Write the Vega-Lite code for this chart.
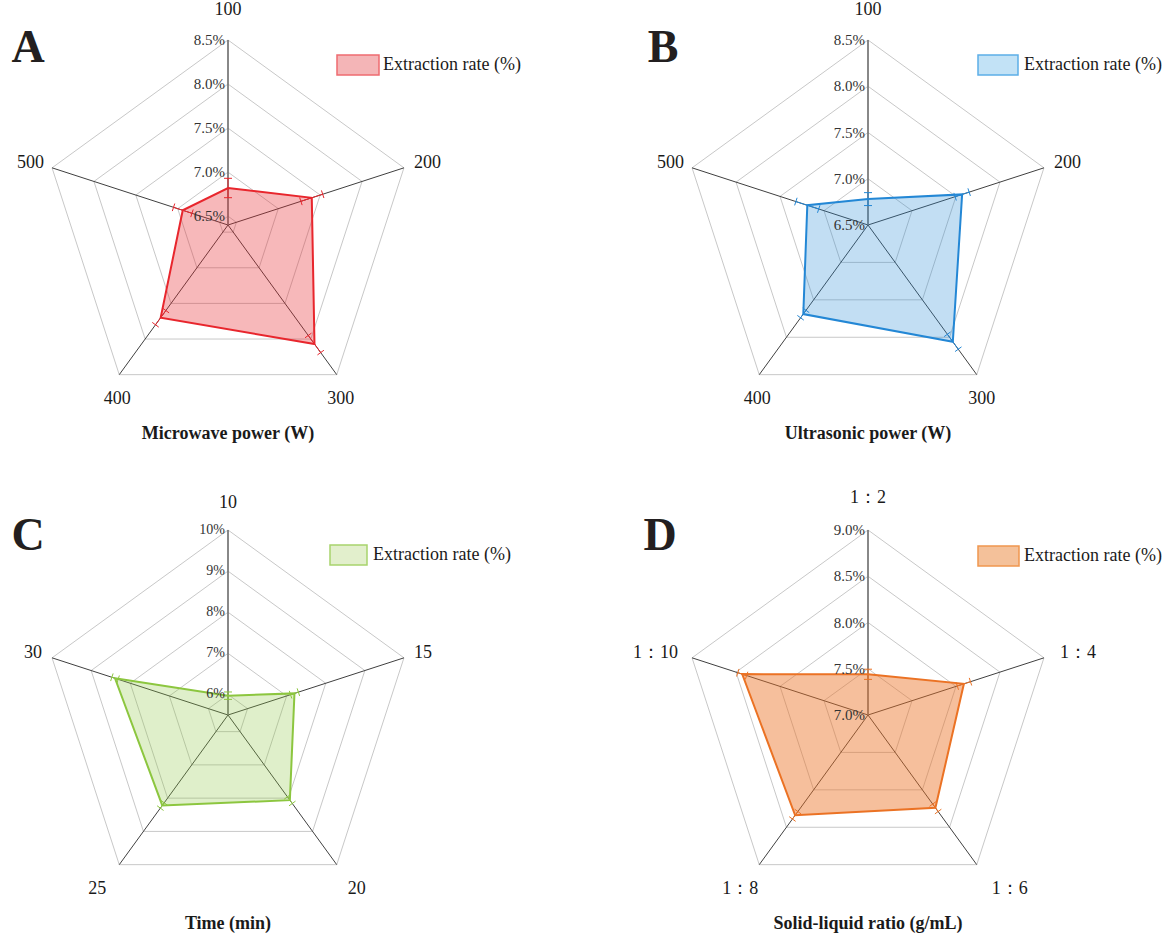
{
  "$schema": "https://vega.github.io/schema/vega-lite/v6.json",
  "background": "white",
  "padding": 0,
  "spacing": 0,
  "config": {
    "font": "Liberation Serif",
    "view": {"stroke": null},
    "mark": {"font": "Liberation Serif"},
    "text": {"font": "Liberation Serif", "fontSize": 17, "color": "#1a1a1a"}
  },
  "datasets": {
    "notes": [
      {"panel": "A", "letter": "A", "title": "Microwave power (W)", "legend": "Extraction rate (%)"},
      {"panel": "B", "letter": "B", "title": "Ultrasonic power (W)", "legend": "Extraction rate (%)"},
      {"panel": "C", "letter": "C", "title": "Time (min)", "legend": "Extraction rate (%)"},
      {"panel": "D", "letter": "D", "title": "Solid-liquid ratio (g/mL)", "legend": "Extraction rate (%)"}
    ],
    "valsA": [
      {"idx": 0, "cat": "100", "v": 6.82, "e": 0.11},
      {"idx": 1, "cat": "200", "v": 7.40, "e": 0.13},
      {"idx": 2, "cat": "300", "v": 8.07, "e": 0.12},
      {"idx": 3, "cat": "400", "v": 7.70, "e": 0.10},
      {"idx": 4, "cat": "500", "v": 6.94, "e": 0.11}
    ],
    "valsB": [
      {"idx": 0, "cat": "100", "v": 6.78, "e": 0.07},
      {"idx": 1, "cat": "200", "v": 7.57, "e": 0.08},
      {"idx": 2, "cat": "300", "v": 8.06, "e": 0.10},
      {"idx": 3, "cat": "400", "v": 7.69, "e": 0.05},
      {"idx": 4, "cat": "500", "v": 7.19, "e": 0.13}
    ],
    "valsC": [
      {"idx": 0, "cat": "10", "v": 5.97, "e": 0.09},
      {"idx": 1, "cat": "15", "v": 7.20, "e": 0.10},
      {"idx": 2, "cat": "20", "v": 8.06, "e": 0.10},
      {"idx": 3, "cat": "25", "v": 8.22, "e": 0.08},
      {"idx": 4, "cat": "30", "v": 8.39, "e": 0.08}
    ],
    "valsD": [
      {"idx": 0, "cat": "1：2", "v": 7.44, "e": 0.055},
      {"idx": 1, "cat": "1：4", "v": 8.09, "e": 0.075},
      {"idx": 2, "cat": "1：6", "v": 8.24, "e": 0.05},
      {"idx": 3, "cat": "1：8", "v": 8.34, "e": 0.05},
      {"idx": 4, "cat": "1：10", "v": 8.43, "e": 0.05}
    ],
    "ticksA": [
      {"t": 6.5, "label": "6.5%", "k": [0, 1, 2, 3, 4]},
      {"t": 7.0, "label": "7.0%", "k": [0, 1, 2, 3, 4]},
      {"t": 7.5, "label": "7.5%", "k": [0, 1, 2, 3, 4]},
      {"t": 8.0, "label": "8.0%", "k": [0, 1, 2, 3, 4]},
      {"t": 8.5, "label": "8.5%", "k": [0, 1, 2, 3, 4]}
    ],
    "ticksB": [
      {"t": 6.5, "label": "6.5%", "k": [0, 1, 2, 3, 4]},
      {"t": 7.0, "label": "7.0%", "k": [0, 1, 2, 3, 4]},
      {"t": 7.5, "label": "7.5%", "k": [0, 1, 2, 3, 4]},
      {"t": 8.0, "label": "8.0%", "k": [0, 1, 2, 3, 4]},
      {"t": 8.5, "label": "8.5%", "k": [0, 1, 2, 3, 4]}
    ],
    "ticksC": [
      {"t": 6, "label": "6%", "k": [0, 1, 2, 3, 4]},
      {"t": 7, "label": "7%", "k": [0, 1, 2, 3, 4]},
      {"t": 8, "label": "8%", "k": [0, 1, 2, 3, 4]},
      {"t": 9, "label": "9%", "k": [0, 1, 2, 3, 4]},
      {"t": 10, "label": "10%", "k": [0, 1, 2, 3, 4]}
    ],
    "ticksD": [
      {"t": 7.0, "label": "7.0%", "k": [0, 1, 2, 3, 4]},
      {"t": 7.5, "label": "7.5%", "k": [0, 1, 2, 3, 4]},
      {"t": 8.0, "label": "8.0%", "k": [0, 1, 2, 3, 4]},
      {"t": 8.5, "label": "8.5%", "k": [0, 1, 2, 3, 4]},
      {"t": 9.0, "label": "9.0%", "k": [0, 1, 2, 3, 4]}
    ]
  },
  "vconcat": [
    {
      "hconcat": [
        {
          "width": 584, "height": 469,
          "data": {"name": "valsA"},
          "transform": [
            {"calculate": "datum.idx * 2 * PI / 5", "as": "a"},
            {"calculate": "(datum.v - 6.4) / 2.1 * 185", "as": "r"},
            {"calculate": "(datum.v - datum.e - 6.4) / 2.1 * 185", "as": "rl"},
            {"calculate": "(datum.v + datum.e - 6.4) / 2.1 * 185", "as": "rh"},
            {"calculate": "0", "as": "o"},
            {"calculate": "datum.r * sin(datum.a)", "as": "px"},
            {"calculate": "datum.r * cos(datum.a)", "as": "py"},
            {"calculate": "185 * sin(datum.a)", "as": "ox"},
            {"calculate": "185 * cos(datum.a)", "as": "oy"},
            {"calculate": "datum.rl * sin(datum.a)", "as": "lx"},
            {"calculate": "datum.rl * cos(datum.a)", "as": "ly"},
            {"calculate": "datum.rh * sin(datum.a)", "as": "hx"},
            {"calculate": "datum.rh * cos(datum.a)", "as": "hy"},
            {"calculate": "4 * cos(datum.a)", "as": "cx"},
            {"calculate": "-4 * sin(datum.a)", "as": "cy"},
            {"calculate": "datum.lx + datum.cx", "as": "lx1"},
            {"calculate": "datum.lx - datum.cx", "as": "lx2"},
            {"calculate": "datum.ly + datum.cy", "as": "ly1"},
            {"calculate": "datum.ly - datum.cy", "as": "ly2"},
            {"calculate": "datum.hx + datum.cx", "as": "hx1"},
            {"calculate": "datum.hx - datum.cx", "as": "hx2"},
            {"calculate": "datum.hy + datum.cy", "as": "hy1"},
            {"calculate": "datum.hy - datum.cy", "as": "hy2"}
          ],
          "layer": [
            {
              "data": {"name": "ticksA"},
              "transform": [
                {"flatten": ["k"]},
                {"calculate": "(datum.t - 6.4) / 2.1 * 185", "as": "r"},
                {"calculate": "datum.k * 2 * PI / 5", "as": "a"},
                {"calculate": "datum.r * sin(datum.a)", "as": "x"},
                {"calculate": "datum.r * cos(datum.a)", "as": "y"}
              ],
              "mark": {"type": "line", "interpolate": "linear-closed", "stroke": "#c8c8c8", "strokeWidth": 1},
              "encoding": {
                "x": {"field": "x", "type": "quantitative", "scale": {"domain": [-228, 356], "nice": false, "zero": false}, "axis": null},
                "y": {"field": "y", "type": "quantitative", "scale": {"domain": [-244, 225], "nice": false, "zero": false}, "axis": null},
                "detail": {"field": "t", "type": "nominal"},
                "order": {"field": "k", "type": "quantitative"}
              }
            },
            {
              "mark": {"type": "rule", "stroke": "#404040", "strokeWidth": 1},
              "encoding": {"x": {"field": "o", "type": "quantitative"}, "y": {"field": "o", "type": "quantitative"}, "x2": {"field": "ox"}, "y2": {"field": "oy"}}
            },
            {
              "transform": [{"filter": "datum.idx == 0"}],
              "mark": {"type": "rule", "stroke": "#808080", "strokeWidth": 1.5},
              "encoding": {"x": {"field": "o", "type": "quantitative"}, "y": {"field": "o", "type": "quantitative"}, "x2": {"field": "ox"}, "y2": {"field": "oy"}}
            },
            {
              "mark": {"type": "line", "interpolate": "linear-closed", "fill": "#e8262d", "fillOpacity": 0.33, "stroke": "#e8262d", "strokeWidth": 2},
              "encoding": {"x": {"field": "px", "type": "quantitative"}, "y": {"field": "py", "type": "quantitative"}, "order": {"field": "idx", "type": "quantitative"}}
            },
            {
              "mark": {"type": "rule", "stroke": "#e8262d", "strokeWidth": 1},
              "encoding": {"x": {"field": "lx", "type": "quantitative"}, "y": {"field": "ly", "type": "quantitative"}, "x2": {"field": "hx"}, "y2": {"field": "hy"}}
            },
            {
              "mark": {"type": "rule", "stroke": "#e8262d", "strokeWidth": 1},
              "encoding": {"x": {"field": "lx1", "type": "quantitative"}, "y": {"field": "ly1", "type": "quantitative"}, "x2": {"field": "lx2"}, "y2": {"field": "ly2"}}
            },
            {
              "mark": {"type": "rule", "stroke": "#e8262d", "strokeWidth": 1},
              "encoding": {"x": {"field": "hx1", "type": "quantitative"}, "y": {"field": "hy1", "type": "quantitative"}, "x2": {"field": "hx2"}, "y2": {"field": "hy2"}}
            },
            {
              "data": {"name": "ticksA"},
              "transform": [{"calculate": "(datum.t - 6.4) / 2.1 * 185", "as": "r"}, {"calculate": "0", "as": "o"}],
              "mark": {"type": "text", "font": "Liberation Serif", "align": "right", "baseline": "middle", "dx": -3, "fontSize": 15, "color": "#333333"},
              "encoding": {"x": {"field": "o", "type": "quantitative"}, "y": {"field": "r", "type": "quantitative"}, "text": {"field": "label"}}
            },
            {
              "transform": [{"filter": "datum.idx == 0"}],
              "mark": {"type": "text", "font": "Liberation Serif", "fontSize": 18, "align": "center", "baseline": "middle", "dy": -30},
              "encoding": {"x": {"field": "ox", "type": "quantitative"}, "y": {"field": "oy", "type": "quantitative"}, "text": {"field": "cat"}}
            },
            {
              "transform": [{"filter": "datum.idx == 1"}],
              "mark": {"type": "text", "font": "Liberation Serif", "fontSize": 18, "align": "left", "baseline": "middle", "dx": 10, "dy": -5},
              "encoding": {"x": {"field": "ox", "type": "quantitative"}, "y": {"field": "oy", "type": "quantitative"}, "text": {"field": "cat"}}
            },
            {
              "transform": [{"filter": "datum.idx == 2"}],
              "mark": {"type": "text", "font": "Liberation Serif", "fontSize": 18, "align": "center", "baseline": "middle", "dx": 4, "dy": 24},
              "encoding": {"x": {"field": "ox", "type": "quantitative"}, "y": {"field": "oy", "type": "quantitative"}, "text": {"field": "cat"}}
            },
            {
              "transform": [{"filter": "datum.idx == 3"}],
              "mark": {"type": "text", "font": "Liberation Serif", "fontSize": 18, "align": "center", "baseline": "middle", "dx": -2, "dy": 24},
              "encoding": {"x": {"field": "ox", "type": "quantitative"}, "y": {"field": "oy", "type": "quantitative"}, "text": {"field": "cat"}}
            },
            {
              "transform": [{"filter": "datum.idx == 4"}],
              "mark": {"type": "text", "font": "Liberation Serif", "fontSize": 18, "align": "right", "baseline": "middle", "dx": -8, "dy": -5},
              "encoding": {"x": {"field": "ox", "type": "quantitative"}, "y": {"field": "oy", "type": "quantitative"}, "text": {"field": "cat"}}
            },
            {
              "data": {"name": "notes"},
              "transform": [{"filter": "datum.panel == 'A'"}],
              "layer": [
                {
                  "mark": {"type": "text", "font": "Liberation Serif", "align": "center", "baseline": "alphabetic", "fontSize": 46, "fontWeight": "bold", "color": "#231f20"},
                  "encoding": {"x": {"datum": -200}, "y": {"datum": 163}, "text": {"field": "letter"}}
                },
                {
                  "mark": {"type": "text", "font": "Liberation Serif", "fontSize": 18, "align": "center", "baseline": "middle", "fontWeight": "bold"},
                  "encoding": {"x": {"datum": 0}, "y": {"datum": -209}, "text": {"field": "title"}}
                },
                {
                  "mark": {"type": "rect", "fill": "#f4b5b7", "stroke": "#ee6b70", "strokeWidth": 1.5},
                  "encoding": {"x": {"datum": 109}, "x2": {"datum": 151}, "y": {"datum": 170}, "y2": {"datum": 150}}
                },
                {
                  "mark": {"type": "text", "font": "Liberation Serif", "fontSize": 18, "align": "left", "baseline": "middle"},
                  "encoding": {"x": {"datum": 155}, "y": {"datum": 160}, "text": {"field": "legend"}}
                }
              ]
            }
          ]
        },
        {
          "width": 585, "height": 469,
          "data": {"name": "valsB"},
          "transform": [
            {"calculate": "datum.idx * 2 * PI / 5", "as": "a"},
            {"calculate": "(datum.v - 6.5) / 2.0 * 185", "as": "r"},
            {"calculate": "(datum.v - datum.e - 6.5) / 2.0 * 185", "as": "rl"},
            {"calculate": "(datum.v + datum.e - 6.5) / 2.0 * 185", "as": "rh"},
            {"calculate": "0", "as": "o"},
            {"calculate": "datum.r * sin(datum.a)", "as": "px"},
            {"calculate": "datum.r * cos(datum.a)", "as": "py"},
            {"calculate": "185 * sin(datum.a)", "as": "ox"},
            {"calculate": "185 * cos(datum.a)", "as": "oy"},
            {"calculate": "datum.rl * sin(datum.a)", "as": "lx"},
            {"calculate": "datum.rl * cos(datum.a)", "as": "ly"},
            {"calculate": "datum.rh * sin(datum.a)", "as": "hx"},
            {"calculate": "datum.rh * cos(datum.a)", "as": "hy"},
            {"calculate": "4 * cos(datum.a)", "as": "cx"},
            {"calculate": "-4 * sin(datum.a)", "as": "cy"},
            {"calculate": "datum.lx + datum.cx", "as": "lx1"},
            {"calculate": "datum.lx - datum.cx", "as": "lx2"},
            {"calculate": "datum.ly + datum.cy", "as": "ly1"},
            {"calculate": "datum.ly - datum.cy", "as": "ly2"},
            {"calculate": "datum.hx + datum.cx", "as": "hx1"},
            {"calculate": "datum.hx - datum.cx", "as": "hx2"},
            {"calculate": "datum.hy + datum.cy", "as": "hy1"},
            {"calculate": "datum.hy - datum.cy", "as": "hy2"}
          ],
          "layer": [
            {
              "data": {"name": "ticksB"},
              "transform": [
                {"flatten": ["k"]},
                {"calculate": "(datum.t - 6.5) / 2.0 * 185", "as": "r"},
                {"calculate": "datum.k * 2 * PI / 5", "as": "a"},
                {"calculate": "datum.r * sin(datum.a)", "as": "x"},
                {"calculate": "datum.r * cos(datum.a)", "as": "y"}
              ],
              "mark": {"type": "line", "interpolate": "linear-closed", "stroke": "#c8c8c8", "strokeWidth": 1},
              "encoding": {
                "x": {"field": "x", "type": "quantitative", "scale": {"domain": [-284, 301], "nice": false, "zero": false}, "axis": null},
                "y": {"field": "y", "type": "quantitative", "scale": {"domain": [-244, 225], "nice": false, "zero": false}, "axis": null},
                "detail": {"field": "t", "type": "nominal"},
                "order": {"field": "k", "type": "quantitative"}
              }
            },
            {
              "mark": {"type": "rule", "stroke": "#404040", "strokeWidth": 1},
              "encoding": {"x": {"field": "o", "type": "quantitative"}, "y": {"field": "o", "type": "quantitative"}, "x2": {"field": "ox"}, "y2": {"field": "oy"}}
            },
            {
              "transform": [{"filter": "datum.idx == 0"}],
              "mark": {"type": "rule", "stroke": "#808080", "strokeWidth": 1.5},
              "encoding": {"x": {"field": "o", "type": "quantitative"}, "y": {"field": "o", "type": "quantitative"}, "x2": {"field": "ox"}, "y2": {"field": "oy"}}
            },
            {
              "mark": {"type": "line", "interpolate": "linear-closed", "fill": "#2387d5", "fillOpacity": 0.28, "stroke": "#2387d5", "strokeWidth": 2},
              "encoding": {"x": {"field": "px", "type": "quantitative"}, "y": {"field": "py", "type": "quantitative"}, "order": {"field": "idx", "type": "quantitative"}}
            },
            {
              "mark": {"type": "rule", "stroke": "#2387d5", "strokeWidth": 1},
              "encoding": {"x": {"field": "lx", "type": "quantitative"}, "y": {"field": "ly", "type": "quantitative"}, "x2": {"field": "hx"}, "y2": {"field": "hy"}}
            },
            {
              "mark": {"type": "rule", "stroke": "#2387d5", "strokeWidth": 1},
              "encoding": {"x": {"field": "lx1", "type": "quantitative"}, "y": {"field": "ly1", "type": "quantitative"}, "x2": {"field": "lx2"}, "y2": {"field": "ly2"}}
            },
            {
              "mark": {"type": "rule", "stroke": "#2387d5", "strokeWidth": 1},
              "encoding": {"x": {"field": "hx1", "type": "quantitative"}, "y": {"field": "hy1", "type": "quantitative"}, "x2": {"field": "hx2"}, "y2": {"field": "hy2"}}
            },
            {
              "data": {"name": "ticksB"},
              "transform": [{"calculate": "(datum.t - 6.5) / 2.0 * 185", "as": "r"}, {"calculate": "0", "as": "o"}],
              "mark": {"type": "text", "font": "Liberation Serif", "align": "right", "baseline": "middle", "dx": -3, "fontSize": 15, "color": "#333333"},
              "encoding": {"x": {"field": "o", "type": "quantitative"}, "y": {"field": "r", "type": "quantitative"}, "text": {"field": "label"}}
            },
            {
              "transform": [{"filter": "datum.idx == 0"}],
              "mark": {"type": "text", "font": "Liberation Serif", "fontSize": 18, "align": "center", "baseline": "middle", "dy": -30},
              "encoding": {"x": {"field": "ox", "type": "quantitative"}, "y": {"field": "oy", "type": "quantitative"}, "text": {"field": "cat"}}
            },
            {
              "transform": [{"filter": "datum.idx == 1"}],
              "mark": {"type": "text", "font": "Liberation Serif", "fontSize": 18, "align": "left", "baseline": "middle", "dx": 10, "dy": -5},
              "encoding": {"x": {"field": "ox", "type": "quantitative"}, "y": {"field": "oy", "type": "quantitative"}, "text": {"field": "cat"}}
            },
            {
              "transform": [{"filter": "datum.idx == 2"}],
              "mark": {"type": "text", "font": "Liberation Serif", "fontSize": 18, "align": "center", "baseline": "middle", "dx": 5, "dy": 24},
              "encoding": {"x": {"field": "ox", "type": "quantitative"}, "y": {"field": "oy", "type": "quantitative"}, "text": {"field": "cat"}}
            },
            {
              "transform": [{"filter": "datum.idx == 3"}],
              "mark": {"type": "text", "font": "Liberation Serif", "fontSize": 18, "align": "center", "baseline": "middle", "dx": -2, "dy": 24},
              "encoding": {"x": {"field": "ox", "type": "quantitative"}, "y": {"field": "oy", "type": "quantitative"}, "text": {"field": "cat"}}
            },
            {
              "transform": [{"filter": "datum.idx == 4"}],
              "mark": {"type": "text", "font": "Liberation Serif", "fontSize": 18, "align": "right", "baseline": "middle", "dx": -8, "dy": -5},
              "encoding": {"x": {"field": "ox", "type": "quantitative"}, "y": {"field": "oy", "type": "quantitative"}, "text": {"field": "cat"}}
            },
            {
              "data": {"name": "notes"},
              "transform": [{"filter": "datum.panel == 'B'"}],
              "layer": [
                {
                  "mark": {"type": "text", "font": "Liberation Serif", "align": "center", "baseline": "alphabetic", "fontSize": 46, "fontWeight": "bold", "color": "#231f20"},
                  "encoding": {"x": {"datum": -205}, "y": {"datum": 163}, "text": {"field": "letter"}}
                },
                {
                  "mark": {"type": "text", "font": "Liberation Serif", "fontSize": 18, "align": "center", "baseline": "middle", "fontWeight": "bold"},
                  "encoding": {"x": {"datum": 0}, "y": {"datum": -209}, "text": {"field": "title"}}
                },
                {
                  "mark": {"type": "rect", "fill": "#c2e2f6", "stroke": "#5caee8", "strokeWidth": 1.5},
                  "encoding": {"x": {"datum": 110}, "x2": {"datum": 150}, "y": {"datum": 170}, "y2": {"datum": 150}}
                },
                {
                  "mark": {"type": "text", "font": "Liberation Serif", "fontSize": 18, "align": "left", "baseline": "middle"},
                  "encoding": {"x": {"datum": 156}, "y": {"datum": 160}, "text": {"field": "legend"}}
                }
              ]
            }
          ]
        }
      ],
      "spacing": 0
    },
    {
      "hconcat": [
        {
          "width": 584, "height": 469,
          "data": {"name": "valsC"},
          "transform": [
            {"calculate": "datum.idx * 2 * PI / 5", "as": "a"},
            {"calculate": "(datum.v - 5.5) / 4.5 * 185", "as": "r"},
            {"calculate": "(datum.v - datum.e - 5.5) / 4.5 * 185", "as": "rl"},
            {"calculate": "(datum.v + datum.e - 5.5) / 4.5 * 185", "as": "rh"},
            {"calculate": "0", "as": "o"},
            {"calculate": "datum.r * sin(datum.a)", "as": "px"},
            {"calculate": "datum.r * cos(datum.a)", "as": "py"},
            {"calculate": "185 * sin(datum.a)", "as": "ox"},
            {"calculate": "185 * cos(datum.a)", "as": "oy"},
            {"calculate": "datum.rl * sin(datum.a)", "as": "lx"},
            {"calculate": "datum.rl * cos(datum.a)", "as": "ly"},
            {"calculate": "datum.rh * sin(datum.a)", "as": "hx"},
            {"calculate": "datum.rh * cos(datum.a)", "as": "hy"},
            {"calculate": "4 * cos(datum.a)", "as": "cx"},
            {"calculate": "-4 * sin(datum.a)", "as": "cy"},
            {"calculate": "datum.lx + datum.cx", "as": "lx1"},
            {"calculate": "datum.lx - datum.cx", "as": "lx2"},
            {"calculate": "datum.ly + datum.cy", "as": "ly1"},
            {"calculate": "datum.ly - datum.cy", "as": "ly2"},
            {"calculate": "datum.hx + datum.cx", "as": "hx1"},
            {"calculate": "datum.hx - datum.cx", "as": "hx2"},
            {"calculate": "datum.hy + datum.cy", "as": "hy1"},
            {"calculate": "datum.hy - datum.cy", "as": "hy2"}
          ],
          "layer": [
            {
              "data": {"name": "ticksC"},
              "transform": [
                {"flatten": ["k"]},
                {"calculate": "(datum.t - 5.5) / 4.5 * 185", "as": "r"},
                {"calculate": "datum.k * 2 * PI / 5", "as": "a"},
                {"calculate": "datum.r * sin(datum.a)", "as": "x"},
                {"calculate": "datum.r * cos(datum.a)", "as": "y"}
              ],
              "mark": {"type": "line", "interpolate": "linear-closed", "stroke": "#c8c8c8", "strokeWidth": 1},
              "encoding": {
                "x": {"field": "x", "type": "quantitative", "scale": {"domain": [-228, 356], "nice": false, "zero": false}, "axis": null},
                "y": {"field": "y", "type": "quantitative", "scale": {"domain": [-223, 246], "nice": false, "zero": false}, "axis": null},
                "detail": {"field": "t", "type": "nominal"},
                "order": {"field": "k", "type": "quantitative"}
              }
            },
            {
              "mark": {"type": "rule", "stroke": "#404040", "strokeWidth": 1},
              "encoding": {"x": {"field": "o", "type": "quantitative"}, "y": {"field": "o", "type": "quantitative"}, "x2": {"field": "ox"}, "y2": {"field": "oy"}}
            },
            {
              "transform": [{"filter": "datum.idx == 0"}],
              "mark": {"type": "rule", "stroke": "#808080", "strokeWidth": 1.5},
              "encoding": {"x": {"field": "o", "type": "quantitative"}, "y": {"field": "o", "type": "quantitative"}, "x2": {"field": "ox"}, "y2": {"field": "oy"}}
            },
            {
              "mark": {"type": "line", "interpolate": "linear-closed", "fill": "#8cc63f", "fillOpacity": 0.28, "stroke": "#8cc63f", "strokeWidth": 2},
              "encoding": {"x": {"field": "px", "type": "quantitative"}, "y": {"field": "py", "type": "quantitative"}, "order": {"field": "idx", "type": "quantitative"}}
            },
            {
              "mark": {"type": "rule", "stroke": "#8cc63f", "strokeWidth": 1},
              "encoding": {"x": {"field": "lx", "type": "quantitative"}, "y": {"field": "ly", "type": "quantitative"}, "x2": {"field": "hx"}, "y2": {"field": "hy"}}
            },
            {
              "mark": {"type": "rule", "stroke": "#8cc63f", "strokeWidth": 1},
              "encoding": {"x": {"field": "lx1", "type": "quantitative"}, "y": {"field": "ly1", "type": "quantitative"}, "x2": {"field": "lx2"}, "y2": {"field": "ly2"}}
            },
            {
              "mark": {"type": "rule", "stroke": "#8cc63f", "strokeWidth": 1},
              "encoding": {"x": {"field": "hx1", "type": "quantitative"}, "y": {"field": "hy1", "type": "quantitative"}, "x2": {"field": "hx2"}, "y2": {"field": "hy2"}}
            },
            {
              "data": {"name": "ticksC"},
              "transform": [{"calculate": "(datum.t - 5.5) / 4.5 * 185", "as": "r"}, {"calculate": "0", "as": "o"}],
              "mark": {"type": "text", "font": "Liberation Serif", "align": "right", "baseline": "middle", "dx": -3, "fontSize": 14, "color": "#333333"},
              "encoding": {"x": {"field": "o", "type": "quantitative"}, "y": {"field": "r", "type": "quantitative"}, "text": {"field": "label"}}
            },
            {
              "transform": [{"filter": "datum.idx == 0"}],
              "mark": {"type": "text", "font": "Liberation Serif", "fontSize": 18, "align": "center", "baseline": "middle", "dy": -27},
              "encoding": {"x": {"field": "ox", "type": "quantitative"}, "y": {"field": "oy", "type": "quantitative"}, "text": {"field": "cat"}}
            },
            {
              "transform": [{"filter": "datum.idx == 1"}],
              "mark": {"type": "text", "font": "Liberation Serif", "fontSize": 18, "align": "left", "baseline": "middle", "dx": 10, "dy": -5},
              "encoding": {"x": {"field": "ox", "type": "quantitative"}, "y": {"field": "oy", "type": "quantitative"}, "text": {"field": "cat"}}
            },
            {
              "transform": [{"filter": "datum.idx == 2"}],
              "mark": {"type": "text", "font": "Liberation Serif", "fontSize": 18, "align": "center", "baseline": "middle", "dx": 20, "dy": 24},
              "encoding": {"x": {"field": "ox", "type": "quantitative"}, "y": {"field": "oy", "type": "quantitative"}, "text": {"field": "cat"}}
            },
            {
              "transform": [{"filter": "datum.idx == 3"}],
              "mark": {"type": "text", "font": "Liberation Serif", "fontSize": 18, "align": "center", "baseline": "middle", "dx": -22, "dy": 24},
              "encoding": {"x": {"field": "ox", "type": "quantitative"}, "y": {"field": "oy", "type": "quantitative"}, "text": {"field": "cat"}}
            },
            {
              "transform": [{"filter": "datum.idx == 4"}],
              "mark": {"type": "text", "font": "Liberation Serif", "fontSize": 18, "align": "right", "baseline": "middle", "dx": -10, "dy": -5},
              "encoding": {"x": {"field": "ox", "type": "quantitative"}, "y": {"field": "oy", "type": "quantitative"}, "text": {"field": "cat"}}
            },
            {
              "data": {"name": "notes"},
              "transform": [{"filter": "datum.panel == 'C'"}],
              "layer": [
                {
                  "mark": {"type": "text", "font": "Liberation Serif", "align": "center", "baseline": "alphabetic", "fontSize": 46, "fontWeight": "bold", "color": "#231f20"},
                  "encoding": {"x": {"datum": -200}, "y": {"datum": 165}, "text": {"field": "letter"}}
                },
                {
                  "mark": {"type": "text", "font": "Liberation Serif", "fontSize": 18, "align": "center", "baseline": "middle", "fontWeight": "bold"},
                  "encoding": {"x": {"datum": 0}, "y": {"datum": -209}, "text": {"field": "title"}}
                },
                {
                  "mark": {"type": "rect", "fill": "#e2efcc", "stroke": "#a8d46c", "strokeWidth": 1.5},
                  "encoding": {"x": {"datum": 102}, "x2": {"datum": 139}, "y": {"datum": 170}, "y2": {"datum": 150}}
                },
                {
                  "mark": {"type": "text", "font": "Liberation Serif", "fontSize": 18, "align": "left", "baseline": "middle"},
                  "encoding": {"x": {"datum": 145}, "y": {"datum": 160}, "text": {"field": "legend"}}
                }
              ]
            }
          ]
        },
        {
          "width": 585, "height": 469,
          "data": {"name": "valsD"},
          "transform": [
            {"calculate": "datum.idx * 2 * PI / 5", "as": "a"},
            {"calculate": "(datum.v - 7.0) / 2.0 * 185", "as": "r"},
            {"calculate": "(datum.v - datum.e - 7.0) / 2.0 * 185", "as": "rl"},
            {"calculate": "(datum.v + datum.e - 7.0) / 2.0 * 185", "as": "rh"},
            {"calculate": "0", "as": "o"},
            {"calculate": "datum.r * sin(datum.a)", "as": "px"},
            {"calculate": "datum.r * cos(datum.a)", "as": "py"},
            {"calculate": "185 * sin(datum.a)", "as": "ox"},
            {"calculate": "185 * cos(datum.a)", "as": "oy"},
            {"calculate": "datum.rl * sin(datum.a)", "as": "lx"},
            {"calculate": "datum.rl * cos(datum.a)", "as": "ly"},
            {"calculate": "datum.rh * sin(datum.a)", "as": "hx"},
            {"calculate": "datum.rh * cos(datum.a)", "as": "hy"},
            {"calculate": "4 * cos(datum.a)", "as": "cx"},
            {"calculate": "-4 * sin(datum.a)", "as": "cy"},
            {"calculate": "datum.lx + datum.cx", "as": "lx1"},
            {"calculate": "datum.lx - datum.cx", "as": "lx2"},
            {"calculate": "datum.ly + datum.cy", "as": "ly1"},
            {"calculate": "datum.ly - datum.cy", "as": "ly2"},
            {"calculate": "datum.hx + datum.cx", "as": "hx1"},
            {"calculate": "datum.hx - datum.cx", "as": "hx2"},
            {"calculate": "datum.hy + datum.cy", "as": "hy1"},
            {"calculate": "datum.hy - datum.cy", "as": "hy2"}
          ],
          "layer": [
            {
              "data": {"name": "ticksD"},
              "transform": [
                {"flatten": ["k"]},
                {"calculate": "(datum.t - 7.0) / 2.0 * 185", "as": "r"},
                {"calculate": "datum.k * 2 * PI / 5", "as": "a"},
                {"calculate": "datum.r * sin(datum.a)", "as": "x"},
                {"calculate": "datum.r * cos(datum.a)", "as": "y"}
              ],
              "mark": {"type": "line", "interpolate": "linear-closed", "stroke": "#c8c8c8", "strokeWidth": 1},
              "encoding": {
                "x": {"field": "x", "type": "quantitative", "scale": {"domain": [-284, 301], "nice": false, "zero": false}, "axis": null},
                "y": {"field": "y", "type": "quantitative", "scale": {"domain": [-223, 246], "nice": false, "zero": false}, "axis": null},
                "detail": {"field": "t", "type": "nominal"},
                "order": {"field": "k", "type": "quantitative"}
              }
            },
            {
              "mark": {"type": "rule", "stroke": "#404040", "strokeWidth": 1},
              "encoding": {"x": {"field": "o", "type": "quantitative"}, "y": {"field": "o", "type": "quantitative"}, "x2": {"field": "ox"}, "y2": {"field": "oy"}}
            },
            {
              "transform": [{"filter": "datum.idx == 0"}],
              "mark": {"type": "rule", "stroke": "#808080", "strokeWidth": 1.5},
              "encoding": {"x": {"field": "o", "type": "quantitative"}, "y": {"field": "o", "type": "quantitative"}, "x2": {"field": "ox"}, "y2": {"field": "oy"}}
            },
            {
              "mark": {"type": "line", "interpolate": "linear-closed", "fill": "#eb7224", "fillOpacity": 0.45, "stroke": "#eb7224", "strokeWidth": 2},
              "encoding": {"x": {"field": "px", "type": "quantitative"}, "y": {"field": "py", "type": "quantitative"}, "order": {"field": "idx", "type": "quantitative"}}
            },
            {
              "mark": {"type": "rule", "stroke": "#eb7224", "strokeWidth": 1},
              "encoding": {"x": {"field": "lx", "type": "quantitative"}, "y": {"field": "ly", "type": "quantitative"}, "x2": {"field": "hx"}, "y2": {"field": "hy"}}
            },
            {
              "mark": {"type": "rule", "stroke": "#eb7224", "strokeWidth": 1},
              "encoding": {"x": {"field": "lx1", "type": "quantitative"}, "y": {"field": "ly1", "type": "quantitative"}, "x2": {"field": "lx2"}, "y2": {"field": "ly2"}}
            },
            {
              "mark": {"type": "rule", "stroke": "#eb7224", "strokeWidth": 1},
              "encoding": {"x": {"field": "hx1", "type": "quantitative"}, "y": {"field": "hy1", "type": "quantitative"}, "x2": {"field": "hx2"}, "y2": {"field": "hy2"}}
            },
            {
              "data": {"name": "ticksD"},
              "transform": [{"calculate": "(datum.t - 7.0) / 2.0 * 185", "as": "r"}, {"calculate": "0", "as": "o"}],
              "mark": {"type": "text", "font": "Liberation Serif", "align": "right", "baseline": "middle", "dx": -3, "fontSize": 15, "color": "#333333"},
              "encoding": {"x": {"field": "o", "type": "quantitative"}, "y": {"field": "r", "type": "quantitative"}, "text": {"field": "label"}}
            },
            {
              "transform": [{"filter": "datum.idx == 0"}],
              "mark": {"type": "text", "font": "Liberation Serif", "fontSize": 18, "align": "center", "baseline": "middle", "dy": -32},
              "encoding": {"x": {"field": "ox", "type": "quantitative"}, "y": {"field": "oy", "type": "quantitative"}, "text": {"field": "cat"}}
            },
            {
              "transform": [{"filter": "datum.idx == 1"}],
              "mark": {"type": "text", "font": "Liberation Serif", "fontSize": 18, "align": "left", "baseline": "middle", "dx": 16, "dy": -5},
              "encoding": {"x": {"field": "ox", "type": "quantitative"}, "y": {"field": "oy", "type": "quantitative"}, "text": {"field": "cat"}}
            },
            {
              "transform": [{"filter": "datum.idx == 2"}],
              "mark": {"type": "text", "font": "Liberation Serif", "fontSize": 18, "align": "center", "baseline": "middle", "dx": 33, "dy": 24},
              "encoding": {"x": {"field": "ox", "type": "quantitative"}, "y": {"field": "oy", "type": "quantitative"}, "text": {"field": "cat"}}
            },
            {
              "transform": [{"filter": "datum.idx == 3"}],
              "mark": {"type": "text", "font": "Liberation Serif", "fontSize": 18, "align": "center", "baseline": "middle", "dx": -19, "dy": 24},
              "encoding": {"x": {"field": "ox", "type": "quantitative"}, "y": {"field": "oy", "type": "quantitative"}, "text": {"field": "cat"}}
            },
            {
              "transform": [{"filter": "datum.idx == 4"}],
              "mark": {"type": "text", "font": "Liberation Serif", "fontSize": 18, "align": "right", "baseline": "middle", "dx": -14, "dy": -5},
              "encoding": {"x": {"field": "ox", "type": "quantitative"}, "y": {"field": "oy", "type": "quantitative"}, "text": {"field": "cat"}}
            },
            {
              "data": {"name": "notes"},
              "transform": [{"filter": "datum.panel == 'D'"}],
              "layer": [
                {
                  "mark": {"type": "text", "font": "Liberation Serif", "align": "center", "baseline": "alphabetic", "fontSize": 46, "fontWeight": "bold", "color": "#231f20"},
                  "encoding": {"x": {"datum": -208}, "y": {"datum": 165}, "text": {"field": "letter"}}
                },
                {
                  "mark": {"type": "text", "font": "Liberation Serif", "fontSize": 18, "align": "center", "baseline": "middle", "fontWeight": "bold"},
                  "encoding": {"x": {"datum": 0}, "y": {"datum": -209}, "text": {"field": "title"}}
                },
                {
                  "mark": {"type": "rect", "fill": "#f4c19a", "stroke": "#f0964f", "strokeWidth": 1.5},
                  "encoding": {"x": {"datum": 110}, "x2": {"datum": 151}, "y": {"datum": 169}, "y2": {"datum": 149}}
                },
                {
                  "mark": {"type": "text", "font": "Liberation Serif", "fontSize": 18, "align": "left", "baseline": "middle"},
                  "encoding": {"x": {"datum": 156}, "y": {"datum": 159}, "text": {"field": "legend"}}
                }
              ]
            }
          ]
        }
      ],
      "spacing": 0
    }
  ]
}
